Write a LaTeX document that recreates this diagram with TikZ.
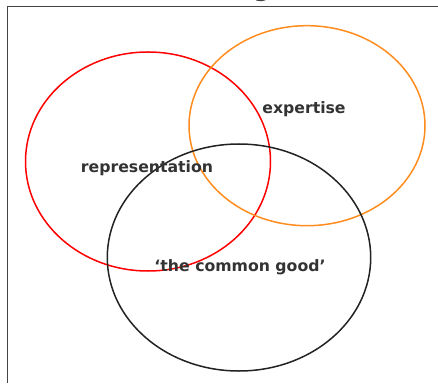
\documentclass[tikz,border=0pt]{standalone}
\usepackage{fontspec}
\setmainfont{DejaVu Sans}
\usepackage{tikz}
\tikzset{>=latex}
\usetikzlibrary{calc,positioning}
\definecolor{ringorange}{HTML}{FF8C1E}
\definecolor{ringblack}{HTML}{222222}
\definecolor{labelgray}{HTML}{333333}
\definecolor{framegray}{HTML}{444444}
\tikzset{
  ring/.style = {line width=1.5pt},
  venntext/.style = {font=\fontsize{15.7}{18}\selectfont\bfseries, text=labelgray, anchor=base, inner sep=0pt}
}

\begin{document}
\begin{tikzpicture}[x=1pt,y=1pt]
            \useasboundingbox (0,0) rectangle (438,383);
            \clip (0,0) rectangle (438,383);

            % frame and cut title
            \draw[framegray, line width=1pt] (7.5,0) -- (7.5,376) -- (438,376);
            \node[font=\fontsize{24}{28}\selectfont\bfseries, text=framegray, anchor=base, inner sep=0pt] (title) at (262,386) {g};

            % three sets
            \draw[ring, red] (148,221.5) ellipse (122.5pt and 109.5pt);
            \draw[ring, ringorange] (307,257.3) ellipse (118pt and 100pt);
            \draw[ring, ringblack] (239,125.5) ellipse (131.7pt and 113.5pt);

            \node[venntext] (repr) at (147,210) {representation};
            \node[venntext] (expert) at (304,269) {expertise};
            \node[venntext] (good) at (240,112) {‘the common good’};
\end{tikzpicture}
\end{document}
